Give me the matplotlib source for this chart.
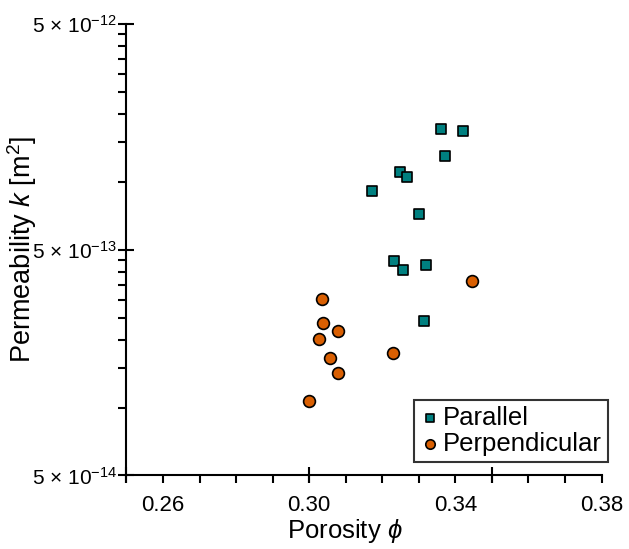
import matplotlib
matplotlib.use("Agg")
import matplotlib.pyplot as plt
from matplotlib.ticker import FixedLocator, FixedFormatter, NullFormatter
import numpy as np

plt.rcParams['font.family'] = ['Liberation Sans', 'DejaVu Sans']
plt.rcParams['mathtext.fontset'] = 'custom'
plt.rcParams['mathtext.rm'] = 'Liberation Sans'
plt.rcParams['mathtext.it'] = 'Liberation Sans:italic'
plt.rcParams['mathtext.fallback'] = 'cm'

# Data
par_phi = [0.3362, 0.3421, 0.3373, 0.3249, 0.3267, 0.3173, 0.3301, 0.3233, 0.3258, 0.3321, 0.3313]
par_k = [1.716e-12, 1.68e-12, 1.307e-12, 1.104e-12, 1.052e-12, 9.09e-13, 7.19e-13, 4.44e-13, 4.07e-13, 4.30e-13, 2.41e-13]
perp_phi = [0.3446, 0.3034, 0.3039, 0.3080, 0.3028, 0.3058, 0.3229, 0.3078, 0.2999]
perp_k = [3.62e-13, 3.01e-13, 2.37e-13, 2.175e-13, 2.01e-13, 1.65e-13, 1.75e-13, 1.42e-13, 1.07e-13]

x_labels_pos = [0.26, 0.30, 0.34, 0.38]
x_labels = ['0.26', '0.30', '0.34', '0.38']
x_major = [0.25, 0.30, 0.35]
y_major = [5e-14, 5e-13, 5e-12]
y_major_labels = [r'5 × 10$^{-14}$', r'5 × 10$^{-13}$', r'5 × 10$^{-12}$']

fig = plt.figure(figsize=(6.29, 5.49), dpi=100)
ax = fig.add_axes([0.2011, 0.1339, 0.7552, 0.8224])

ax.scatter(par_phi, par_k, marker='s', s=52, color='#008080', edgecolor='black', linewidth=1.2, label='Parallel', zorder=3)
ax.scatter(perp_phi, perp_k, marker='o', s=72, color='#d95f02', edgecolor='black', linewidth=1.2, label='Perpendicular', zorder=3)

ax.set_yscale('log')
ax.set_xlim(0.25, 0.38)
ax.set_ylim(5e-14, 5e-12)

for s in ['top', 'right']:
    ax.spines[s].set_visible(False)
for s in ['left', 'bottom']:
    ax.spines[s].set_linewidth(1.5)

# x ticks
minor_x = [round(0.25 + 0.01 * i, 2) for i in range(14)]
ax.xaxis.remove_overlapping_locs = False
ax.xaxis.set_major_locator(FixedLocator(x_major))
ax.xaxis.set_major_formatter(NullFormatter())
ax.xaxis.set_minor_locator(FixedLocator(minor_x))
ax.xaxis.set_minor_formatter(FixedFormatter([x_labels[x_labels_pos.index(v)] if v in x_labels_pos else '' for v in minor_x]))
ax.tick_params(axis='x', which='major', direction='inout', length=12, width=1.5)
ax.tick_params(axis='x', which='minor', direction='out', length=6, width=1.5, labelsize=16, pad=8)

# y ticks
minor_y = []
for base in [5e-14, 5e-13]:
    for m in range(2, 10):
        minor_y.append(base * m)
ax.yaxis.set_major_locator(FixedLocator(y_major))
ax.yaxis.set_major_formatter(FixedFormatter(y_major_labels))
ax.yaxis.set_minor_locator(FixedLocator(minor_y))
ax.yaxis.set_minor_formatter(NullFormatter())
ax.tick_params(axis='y', which='major', direction='inout', length=12, width=1.5, labelsize=15, pad=1)
ax.tick_params(axis='y', which='minor', direction='out', length=6, width=1.5)

ax.set_xlabel(r'Porosity $\phi$', fontsize=18.5)
ax.xaxis.set_label_coords(0.46, -0.092)
ax.set_ylabel(r'Permeability $k$ [m$^2$]', fontsize=19.5)
ax.yaxis.set_label_coords(-0.184, 0.5)

leg = ax.legend(loc='lower right', bbox_to_anchor=(1.0137, 0.03), fontsize=18.5, frameon=True, fancybox=False,
                edgecolor='black', handletextpad=0.15, borderpad=0.25, labelspacing=0.05,
                handlelength=0.7, markerscale=0.8, borderaxespad=0.0)
leg.get_frame().set_linewidth(1.5)

fig.savefig('out.png', dpi=100)
